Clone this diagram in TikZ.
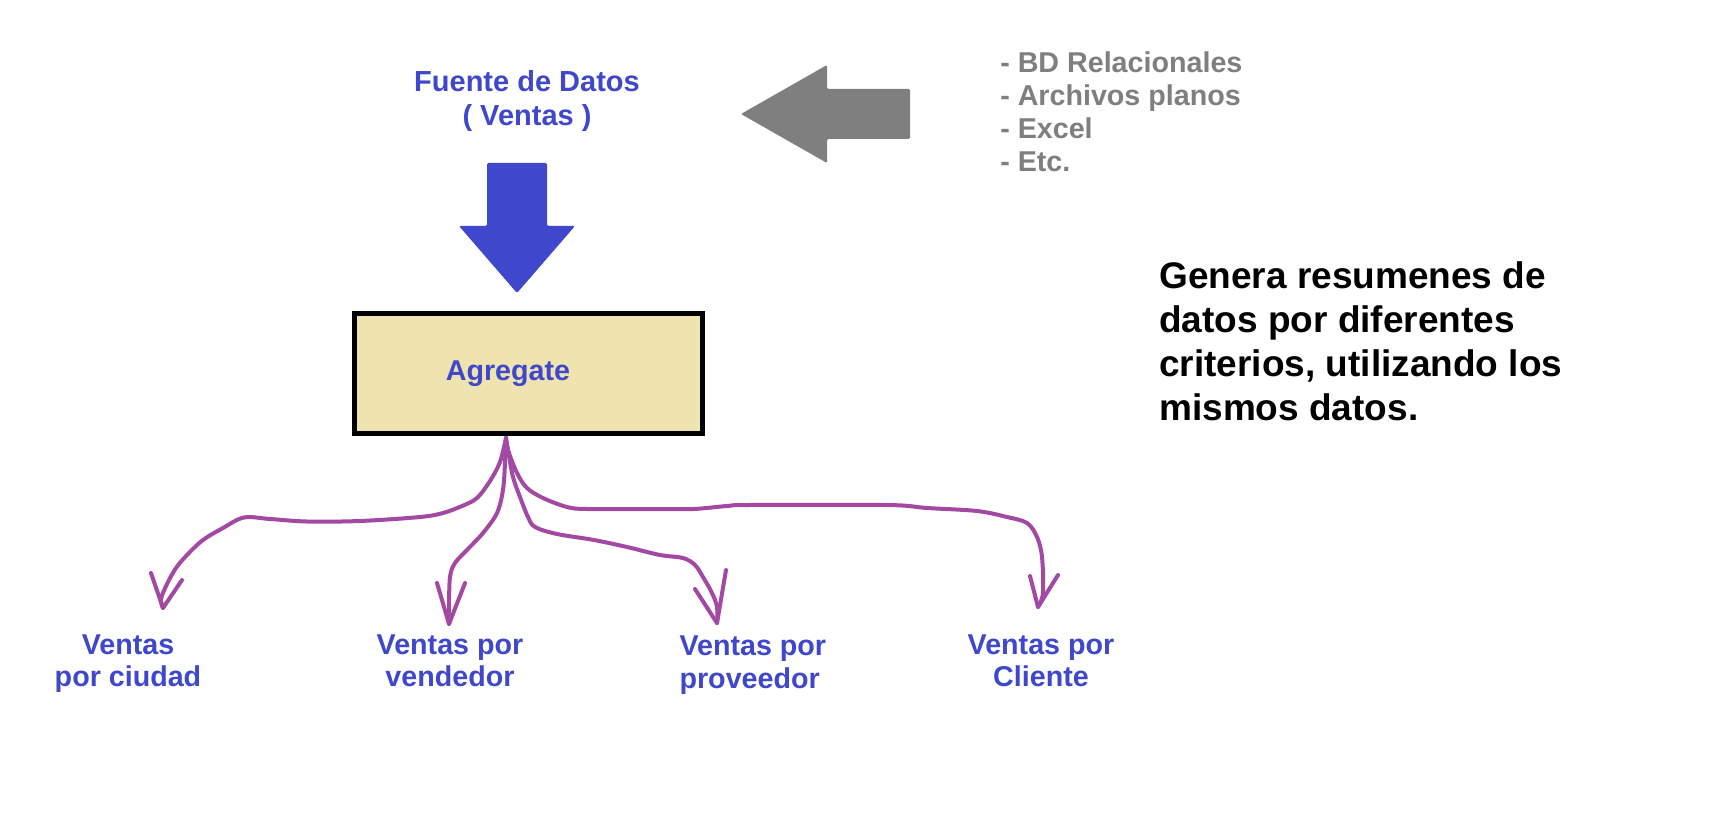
\documentclass[tikz,border=0pt]{standalone}
\usepackage{fontspec}
\setmainfont{Liberation Sans}
\usetikzlibrary{calc}
\definecolor{pblue}{RGB}{63,72,204}
\definecolor{pgray}{RGB}{127,127,127}
\definecolor{ppurple}{RGB}{163,73,164}
\definecolor{ptan}{RGB}{239,228,176}
\tikzset{
  bluetxt/.style={text=pblue, font=\fontsize{21.5}{24.4}\selectfont\bfseries, inner sep=0pt, align=center, anchor=base},
  graytxt/.style={text=pgray, font=\fontsize{21.5}{24.75}\selectfont\bfseries, inner sep=0pt, align=left, anchor=base west},
  blacktxt/.style={text=black, font=\fontsize{27.75}{33}\selectfont\bfseries, inner sep=0pt, align=left, anchor=base west},
  aggbox/.style={draw=black, fill=ptan, line width=3.75pt, minimum width=261pt, minimum height=90pt, inner sep=0pt,
                 text=pblue, font=\fontsize{21.5}{24.4}\selectfont\bfseries},
  conn/.style={draw=ppurple, line width=3pt, line cap=round, line join=round},
  blockblue/.style={fill=pblue, rounded corners=1pt},
  blockgray/.style={fill=pgray, rounded corners=1pt}
}
\begin{document}
\begin{tikzpicture}[x=0.75pt,y=-0.75pt]
\fill[white] (0,0) rectangle (1712,823);
\useasboundingbox (0,0) rectangle (1712,823);

% texts (anchored at the baseline of the last line)
\node[bluetxt, font=\fontsize{21.75}{25.5}\selectfont\bfseries] (fuente) at (527,125.7) {Fuente de Datos\\( Ventas )};
\node[graytxt] (lista) at (1000,171.5) {- BD Relacionales\\- Archivos planos\\- Excel\\- Etc.};
\node[blacktxt] (desc) at (1159,420) {Genera resumenes de\\datos por diferentes\\criterios, utilizando los\\mismos datos.};

% block arrows
\fill[blockblue] (487,163) -- (547,163) -- (547,226) -- (575,226) -- (517,293) -- (459,226) -- (487,226) -- cycle;
\fill[blockgray] (910,89) -- (910,139) -- (827,139) -- (827,163) -- (741,114) -- (827,65) -- (827,89) -- cycle;

% aggregate box
\node[aggbox] (agg) at (528.5,373.5) {\hspace*{-30.75pt}Agregate};

% output labels
\node[bluetxt] (ciudad) at (128,686.7) {Ventas\\por ciudad};
\node[bluetxt] (vendedor) at (450,686.7) {Ventas por\\vendedor};
\node[bluetxt, align=left, anchor=base west] (proveedor) at (679.3,688.3) {Ventas por\\proveedor};
\node[bluetxt] (cliente) at (1041,686.7) {Ventas por\\Cliente};

% connector points
\coordinate (src) at ($(agg.south)+(-22.5,2)$);
\coordinate (t1) at (163,608);
\coordinate (t2) at (449,624);
\coordinate (t3) at (717,623);
\coordinate (t4) at (1038,607);

% hand-drawn arrows
\draw[conn] plot[smooth, tension=0.55] coordinates {(src) (500,462) (490,481) (477,498) (462,506) (443,513) (420,517) (360,521) (307,521.5) (270,519) (244,517.5) (223,528) (203,540) (187,555) (176,568) (167,584) (161,599) (t1)};
\draw[conn] (151,573) -- (t1) -- (182,580);

\draw[conn] plot[smooth, tension=0.55] coordinates {(src) (505,463) (503,490) (497,513) (483,533) (467,550) (455,563) (450,577) (449,607) (t2)};
\draw[conn] (437,583) -- (t2) -- (465,583);

\draw[conn] plot[smooth, tension=0.55] coordinates {(src) (508,450) (513,477) (520,497) (528,517) (535,527) (557,534) (594,540) (627,547) (660,555) (683,558) (695,565) (703,577) (712,593) (717,607) (t3)};
\draw[conn] (695,589) -- (t3) -- (726,570);

\draw[conn] plot[smooth, tension=0.55] coordinates {(src) (508,450) (517,473) (527,488) (543,498) (567,507) (587,509) (650,509) (693,509) (727,506) (750,505) (887,505) (927,508) (977,511) (1007,517) (1027,523) (1037,537) (1042,557) (1043,593) (t4)};
\draw[conn] (1030,576) -- (t4) -- (1058,575);
\end{tikzpicture}
\end{document}
